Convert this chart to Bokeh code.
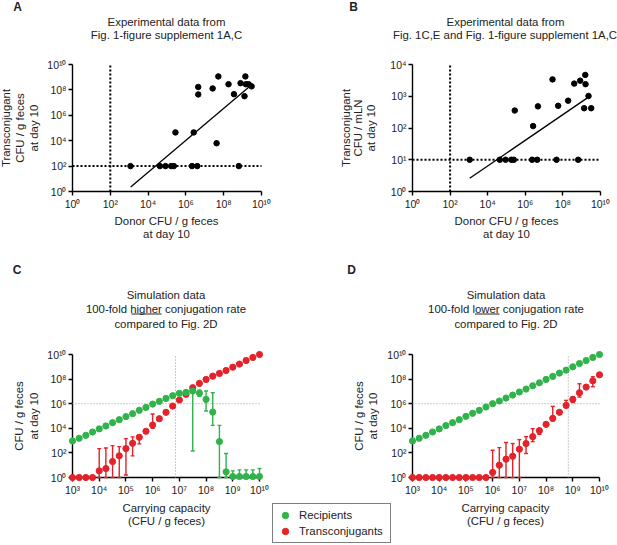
import numpy as np
from bokeh.plotting import figure
from bokeh.models import (Range1d, FixedTicker, CustomJSTickFormatter, Label,
                          Legend, LegendItem, Whisker, TeeHead, ColumnDataSource, Arrow)
from bokeh.layouts import row, column
from bokeh.embed import file_html
from bokeh.resources import INLINE

# ---------------- data ----------------
# Panel A: experimental, transconjugants in feces vs donor in feces (day 10)
A_donor = [1.17e3, 4.2e4, 8.3e4, 1.66e5, 2.3e5, 2.1e6, 4.0e6, 6.3e8,
           2.8e5, 2.6e6, 4.5e6, 4.5e6, 2.6e7, 5.2e7, 4.2e7, 1.8e8, 3.5e8,
           7.8e8, 1.4e9, 1.5e9, 1.26e9, 2.1e9, 3.0e9]
A_trans = [1e2, 1e2, 1e2, 1e2, 1e2, 1e2, 1e2, 1e2,
           4.5e4, 4.5e4, 1.7e8, 4.4e7, 1.3e8, 1.15e9, 6.3e3, 2.8e8, 4.6e7,
           3.4e8, 1.15e9, 2.8e8, 3.2e7, 2.8e8, 1.9e8]
A_fit_x = [1.2e3, 2.1e9]
A_fit_y = [2.3, 1.6e8]
A_limit_donor = 1e2
A_limit_trans = 1e2

# Panel B: experimental, transconjugants in mLN vs donor in feces (day 10)
B_donor = [1.1e3, 4.4e4, 8.9e4, 1.8e5, 2.45e5, 2.3e6, 4.3e6, 4.6e7, 6.5e8,
           2.75e5, 2.6e6, 4.7e6, 2.8e7, 5.6e7, 1.9e8, 4.0e8, 8.3e8, 1.55e9,
           1.6e9, 2.3e9, 1.35e9, 3.2e9]
B_trans = [10, 10, 10, 10, 10, 10, 10, 10, 10,
           355, 115, 480, 3400, 500, 725, 2500, 3100, 4700,
           2400, 1020, 420, 420]
B_fit_x = [1.1e3, 2.0e9]
B_fit_y = [2.6, 8.9e2]
B_limit_donor = 1e2
B_limit_trans = 1e1

# Panels C/D: simulation, carrying capacity (log10 CFU / g feces)
capacity_log10 = [3.0, 3.25, 3.5, 3.75, 4.0, 4.25, 4.5, 4.75, 5.0, 5.25, 5.5, 5.75,
                  6.0, 6.25, 6.5, 6.75, 7.0, 7.25, 7.5, 7.75, 8.0, 8.25, 8.5, 8.75,
                  9.0, 9.25, 9.5, 9.75, 10.0]

# C: 100-fold higher conjugation rate (log10 CFU / g feces)
C_rec = [2.97, 3.19, 3.43, 3.70, 3.95, 4.19, 4.46, 4.70, 4.95, 5.19, 5.46, 5.70,
         5.97, 6.19, 6.43, 6.65, 6.84, 6.92, 7.03, 6.86, 6.35, 5.32, 2.92, 0.46,
         0.08, 0.08, 0.08, 0.08, 0.08]
C_rec_hi = [None] * 18 + [7.16, 7.10, 7.03, 6.89, 4.24, 1.95, 0.54, 0.62, 0.62, 0.62, 0.73]
C_rec_lo = [None] * 18 + [2.16, 6.60, 5.41, 4.24, 0.0, 0.0, 0.0, 0.0, 0.0, 0.0, 0.0]
C_tra = [0.0, 0.0, 0.0, 0.0, 0.54, 0.73, 1.30, 1.76, 2.35, 2.78, 3.27, 3.76,
         4.27, 4.78, 5.30, 5.81, 6.30, 6.76, 7.30, 7.65, 7.97, 8.24, 8.46, 8.70,
         8.97, 9.22, 9.51, 9.76, 10.0]
C_tra_hi = [None] * 4 + [2.35, 2.40, 2.59, 2.51, 3.16, 3.30, 3.43, None, 5.16, 4.92] + [None] * 15
C_tra_lo = [None] * 4 + [0.0, 0.0, 0.0, 0.0, 0.20, 1.76, 2.73, None, 4.00, 4.70] + [None] * 15
C_vline = 7.2e6

# D: 100-fold lower conjugation rate (log10 CFU / g feces)
D_rec = [2.97, 3.19, 3.43, 3.70, 3.95, 4.22, 4.46, 4.70, 4.97, 5.22, 5.46, 5.73,
         6.00, 6.22, 6.46, 6.70, 6.95, 7.19, 7.46, 7.70, 7.97, 8.22, 8.49, 8.73,
         9.00, 9.27, 9.51, 9.76, 10.0]
D_tra = [0.0] * 12 + [0.41, 1.00, 1.49, 1.73, 2.30, 2.76, 3.32, 3.81, 4.32, 4.81,
                      5.30, 5.86, 6.35, 6.89, 7.35, 7.86, 8.35]
D_tra_hi = [None] * 12 + [2.22, 2.43, 2.84, 2.76, 3.08, 3.32, 3.97, 3.97, None, 5.78,
                          None, 6.27, 6.57, 7.62, None, 8.19, None]
D_tra_lo = [None] * 12 + [0.0, 0.0, 0.0, 0.0, 0.0, 1.95, 2.92, 3.51, None, 4.60,
                          None, 5.70, 6.10, 6.54, None, 7.38, None]
D_vline = 6.8e8
sim_hline = 1e6

# ticks
even_ticks = [1, 1e2, 1e4, 1e6, 1e8, 1e10]
even_labels = ["10⁰", "10²", "10⁴", "10⁶", "10⁸", "10¹⁰"]
B_y_ticks = [1, 1e1, 1e2, 1e3, 1e4]
B_y_labels = ["10⁰", "10¹", "10²", "10³", "10⁴"]
sim_x_ticks = [1e3, 1e4, 1e5, 1e6, 1e7, 1e8, 1e9, 1e10]
sim_x_labels = ["10³", "10⁴", "10⁵", "10⁶", "10⁷", "10⁸", "10⁹", "10¹⁰"]

# ---------------- style ----------------
FONT = "Liberation Sans"
TXT = "#222222"
GREEN = "#30b34b"
RED = "#e3222a"
GRAYLINE = "#9a9a9a"


def panel(canvas, xmap, ymap):
    """canvas = (x0, y0, x1, y1) in page pixels; the whole canvas is the frame.
    xmap / ymap = (pixel_a, log10_a, pixel_b, log10_b) pin the axis positions."""
    cx0, cy0, cx1, cy1 = canvas
    Xa, la, Xb, lb = xmap
    kx = (lb - la) / (Xb - Xa)
    xr = (10 ** (la + (cx0 - Xa) * kx), 10 ** (la + (cx1 - Xa) * kx))
    Ya, ma, Yb, mb = ymap
    ky = (mb - ma) / (Yb - Ya)
    yr = (10 ** (ma + (cy1 - Ya) * ky), 10 ** (ma + (cy0 - Ya) * ky))
    p = figure(title=None, width=cx1 - cx0, height=cy1 - cy0,
               min_border=0, min_border_left=0, min_border_right=0,
               min_border_top=0, min_border_bottom=0,
               x_axis_type="log", y_axis_type="log",
               x_range=Range1d(*xr), y_range=Range1d(*yr),
               output_backend="svg", toolbar_location=None)
    p.outline_line_color = None
    p.xgrid.visible = False
    p.ygrid.visible = False
    p.background_fill_color = "white"
    p.border_fill_color = "white"
    p._canvas = canvas
    return p


def style_axis(ax, ticks, labels, cross_at):
    ax.ticker = FixedTicker(ticks=ticks, minor_ticks=[])
    ax.formatter = CustomJSTickFormatter(
        args=dict(tick_values=ticks, tick_labels=labels),
        code="""
        for (let i = 0; i < tick_values.length; i++) {
            if (Math.abs(Math.log10(tick) - Math.log10(tick_values[i])) < 1e-6) {
                return tick_labels[i];
            }
        }
        return "";
        """)
    ax.fixed_location = cross_at
    ax.bounds = (ticks[0], ticks[-1])
    ax.level = "underlay"
    ax.axis_line_color = "black"
    ax.axis_line_width = 1.4
    ax.major_tick_line_color = "black"
    ax.major_tick_line_width = 1.4
    ax.major_tick_in = 0
    ax.major_tick_out = 4
    ax.minor_tick_line_color = None
    ax.major_label_text_font = FONT
    ax.major_label_text_font_size = "10.5px"
    ax.major_label_text_color = TXT
    ax.major_label_standoff = 2


def txt(p, X, Y, text, size="11.4px", align="center", angle=0.0, bold=False):
    cx0, cy0, cx1, cy1 = p._canvas
    p.add_layout(Label(x=X - cx0, y=cy1 - Y, x_units="screen", y_units="screen",
                       text=text, text_align=align, text_baseline="middle",
                       angle=angle, angle_units="deg", text_font=FONT,
                       text_font_size=size, text_color=TXT,
                       text_font_style="bold" if bold else "normal"))


def underline(p, X0, X1, Y):
    cx0, cy0, cx1, cy1 = p._canvas
    p.add_layout(Arrow(x_start=X0 - cx0, y_start=cy1 - Y, x_end=X1 - cx0, y_end=cy1 - Y,
                       start_units="screen", end_units="screen", start=None, end=None,
                       line_color=TXT, line_width=1))


def whiskers(p, xs, lo, hi, color):
    keep = [i for i in range(len(xs)) if hi[i] is not None]
    src = ColumnDataSource(dict(
        base=[xs[i] for i in keep],
        lower=[10 ** lo[i] for i in keep],
        upper=[10 ** hi[i] for i in keep]))
    w = Whisker(source=src, base="base", lower="lower", upper="upper", dimension="height",
                line_color=color, line_width=1.4, level="underlay",
                upper_head=TeeHead(size=4, line_color=color, line_width=1.4),
                lower_head=TeeHead(size=4, line_color=color, line_width=1.4))
    p.add_layout(w)


def detection_lines(p, x_ticks, y_ticks, lim_x, lim_y):
    p.segment(x0=[lim_x], x1=[lim_x], y0=[y_ticks[0]], y1=[y_ticks[-1]],
              line_color="black", line_width=2, line_dash="2 2")
    p.segment(x0=[x_ticks[0]], x1=[x_ticks[-1]], y0=[lim_y], y1=[lim_y],
              line_color="black", line_width=2, line_dash="2 2")


# ---------------- panel A ----------------
pA = panel((0, 0, 307, 250), (72, 0, 261, 10), (191, 0, 64, 10))
style_axis(pA.xaxis[0], even_ticks, even_labels, even_ticks[0])
style_axis(pA.yaxis[0], even_ticks, even_labels, even_ticks[0])
detection_lines(pA, even_ticks, even_ticks, A_limit_donor, A_limit_trans)
pA.line(A_fit_x, A_fit_y, line_color="black", line_width=1.3)
pA.scatter(A_donor, A_trans, size=5.5, color="black")
txt(pA, 17, 6.5, "A", size="12px", bold=True)
txt(pA, 166, 21, "Experimental data from")
txt(pA, 166, 34.5, "Fig. 1-figure supplement 1A,C")
txt(pA, 166, 220, "Donor CFU / g feces")
txt(pA, 166, 233.5, "at day 10")
txt(pA, 5.5, 127.5, "Transconjugant", angle=90)
txt(pA, 19, 127.5, "CFU / g feces", angle=90)
txt(pA, 33, 127.5, "at day 10", angle=90)

# ---------------- panel B ----------------
pB = panel((307, 0, 617, 250), (412, 0, 600, 10), (191, 0, 64, 4))
style_axis(pB.xaxis[0], even_ticks, even_labels, B_y_ticks[0])
style_axis(pB.yaxis[0], B_y_ticks, B_y_labels, even_ticks[0])
detection_lines(pB, even_ticks, B_y_ticks, B_limit_donor, B_limit_trans)
pB.line(B_fit_x, B_fit_y, line_color="black", line_width=1.3)
pB.scatter(B_donor, B_trans, size=5.5, color="black")
txt(pB, 353, 6.5, "B", size="12px", bold=True)
txt(pB, 505, 21, "Experimental data from")
txt(pB, 504.5, 34.5, "Fig. 1C,E and Fig. 1-figure supplement 1A,C")
txt(pB, 506, 220, "Donor CFU / g feces")
txt(pB, 506, 233.5, "at day 10")
txt(pB, 345, 127.5, "Transconjugant", angle=90)
txt(pB, 357.5, 127.5, "CFU / mLN", angle=90)
txt(pB, 370.5, 127.5, "at day 10", angle=90)

# ---------------- simulation panels ----------------
capacity = [10 ** e for e in capacity_log10]


def ref_lines(p, vline):
    p.segment(x0=[sim_x_ticks[0]], x1=[sim_x_ticks[-1]], y0=[sim_hline], y1=[sim_hline],
              line_color=GRAYLINE, line_width=1, line_dash="1 2")
    p.segment(x0=[vline], x1=[vline], y0=[even_ticks[0]], y1=[even_ticks[-1]],
              line_color=GRAYLINE, line_width=1, line_dash="1 2")


# ---------------- panel C ----------------
pC = panel((0, 250, 271, 545), (72, 3, 259, 10), (477, 0, 354, 10))
style_axis(pC.xaxis[0], sim_x_ticks, sim_x_labels, even_ticks[0])
style_axis(pC.yaxis[0], even_ticks, even_labels, sim_x_ticks[0])
ref_lines(pC, C_vline)
whiskers(pC, capacity, C_tra_lo, C_tra_hi, RED)
whiskers(pC, capacity, C_rec_lo, C_rec_hi, GREEN)
pC.scatter(capacity, [10 ** v for v in C_tra], size=6.2, color=RED)
pC.scatter(capacity, [10 ** v for v in C_rec], size=6.2, color=GREEN)
txt(pC, 16.5, 269, "C", size="12px", bold=True)
txt(pC, 165.5, 294, "Simulation data")
txt(pC, 165.5, 308.5, "100-fold higher conjugation rate")
underline(pC, 131, 161, 313.5)
txt(pC, 165.5, 323, "compared to Fig. 2D")
txt(pC, 166, 507, "Carrying capacity")
txt(pC, 166, 520.5, "(CFU / g feces)")
txt(pC, 18.5, 415.5, "CFU / g feces", angle=90)
txt(pC, 33, 415.5, "at day 10", angle=90)

# ---------------- panel D ----------------
pD = panel((271, 250, 617, 545), (412, 3, 599, 10), (477, 0, 354, 10))
style_axis(pD.xaxis[0], sim_x_ticks, sim_x_labels, even_ticks[0])
style_axis(pD.yaxis[0], even_ticks, even_labels, sim_x_ticks[0])
ref_lines(pD, D_vline)
whiskers(pD, capacity, D_tra_lo, D_tra_hi, RED)
rD = pD.scatter(capacity, [10 ** v for v in D_tra], size=6.2, color=RED)
gD = pD.scatter(capacity, [10 ** v for v in D_rec], size=6.2, color=GREEN)
txt(pD, 351, 269, "D", size="12px", bold=True)
txt(pD, 505.5, 294, "Simulation data")
txt(pD, 505.5, 308.5, "100-fold lower conjugation rate")
underline(pD, 474.5, 499, 313.5)
txt(pD, 505.5, 323, "compared to Fig. 2D")
txt(pD, 505, 507, "Carrying capacity")
txt(pD, 505, 520.5, "(CFU / g feces)")
txt(pD, 358.5, 415.5, "CFU / g feces", angle=90)
txt(pD, 372, 415.5, "at day 10", angle=90)

legend = Legend(items=[LegendItem(label="Recipients", renderers=[gD]),
                       LegendItem(label="Transconjugants", renderers=[rD])],
                location=(1, 2),
                border_line_color="black", border_line_width=1,
                background_fill_color="white", background_fill_alpha=1.0,
                padding=3, spacing=0, margin=0,
                glyph_width=18, glyph_height=16, label_height=16, label_width=88,
                label_standoff=5,
                label_text_font=FONT, label_text_font_size="11.4px",
                label_text_color=TXT)
pD.add_layout(legend)

layout = column(row(pA, pB), row(pC, pD))
open("out.html", "w").write(file_html(layout, INLINE))
